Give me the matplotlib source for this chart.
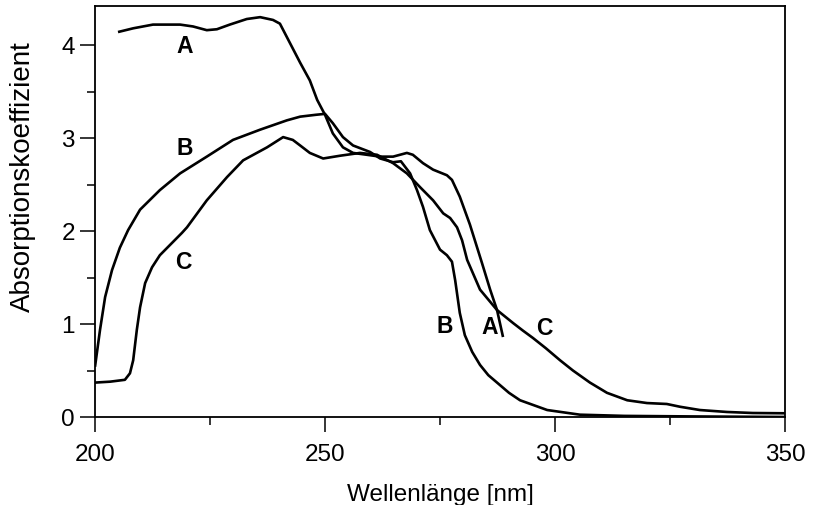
import matplotlib
matplotlib.use("Agg")
import matplotlib.pyplot as plt
from matplotlib.ticker import MultipleLocator

plt.rcParams['font.family'] = ['Liberation Sans', 'DejaVu Sans']

# Curve A
A_x = [205, 208.3, 212.6, 218.5, 221.3, 224.3, 226.5, 229.3, 233, 235.9, 238.7, 240.2,
       242.4, 244.6, 246.7, 248.3, 250, 251.7, 253.9, 256.1, 259.1, 262, 264.8, 267.8,
       269.1, 271.3, 273.5, 276.5, 277.6, 279.3, 281.5, 284.1, 285.9, 287.4, 288.7]
A_y = [4.14, 4.18, 4.22, 4.22, 4.20, 4.16, 4.17, 4.22, 4.28, 4.30, 4.27, 4.23,
       4.02, 3.81, 3.62, 3.41, 3.25, 3.05, 2.90, 2.84, 2.82, 2.80, 2.80, 2.84,
       2.82, 2.73, 2.66, 2.60, 2.55, 2.37, 2.07, 1.66, 1.37, 1.15, 0.86]

# Curve B
B_x = [200, 201.1, 202.2, 203.7, 205.4, 207.2, 209.8, 214.1, 218.5, 224.3, 230, 235.9,
       241.7, 244.6, 248, 250, 251.7, 253.9, 256.1, 259.8, 262, 264.8, 266.5, 268.5,
       270, 271.3, 272.8, 275, 276.5, 277.6, 278.3, 279.3, 280.4, 282, 283.7, 285.5,
       287.4, 290, 292.4, 298.3, 305.4, 315, 330, 350]
B_y = [0.54, 0.94, 1.29, 1.58, 1.82, 2.01, 2.23, 2.44, 2.62, 2.80, 2.98, 3.09,
       3.19, 3.23, 3.25, 3.26, 3.16, 3.01, 2.92, 2.85, 2.78, 2.74, 2.75, 2.62,
       2.44, 2.26, 2.01, 1.80, 1.74, 1.67, 1.47, 1.12, 0.88, 0.70, 0.56, 0.45,
       0.37, 0.26, 0.18, 0.075, 0.025, 0.012, 0.006, 0.0]

# Curve C
C_x = [200, 203.3, 206.5, 207.6, 208.3, 209.1, 209.8, 210.9, 212.4, 214.1, 216.3, 218.9,
       220, 224.3, 228.7, 232.2, 237.4, 240.9, 243, 244.6, 246.7, 249.6, 253.3, 257.6,
       261.3, 264.8, 267.8, 270.7, 273.5, 275.7, 277.2, 278.7, 279.8, 280.9, 283.7,
       287.4, 290.9, 293, 295.2, 298, 301.1, 303.9, 307.6, 311.3, 315.7, 320, 324.3,
       327.2, 331.5, 337.4, 343, 350]
C_y = [0.37, 0.38, 0.40, 0.47, 0.61, 0.94, 1.18, 1.44, 1.61, 1.74, 1.85, 1.98,
       2.04, 2.33, 2.58, 2.76, 2.90, 3.01, 2.98, 2.92, 2.84, 2.78, 2.81, 2.84,
       2.82, 2.73, 2.62, 2.47, 2.33, 2.19, 2.14, 2.04, 1.90, 1.69, 1.37,
       1.15, 1.01, 0.93, 0.85, 0.74, 0.61, 0.50, 0.37, 0.26, 0.18, 0.15, 0.14,
       0.11, 0.075, 0.054, 0.043, 0.04]

# Curve labels
label_text = ["A", "B", "C", "B", "A", "C"]
label_x = [219.6, 219.6, 219.1, 276.1, 285.7, 297.6]
label_y = [3.98, 2.89, 1.66, 0.97, 0.96, 0.95]

x_ticks = [200, 250, 300, 350]
y_ticks = [0, 1, 2, 3, 4]

fig = plt.figure(figsize=(8.15, 5.05), dpi=100)
ax = fig.add_axes([95/815, 1-417/505, 690/815, 411/505])

lw = 1.9
for xs, ys in [(A_x, A_y), (B_x, B_y), (C_x, C_y)]:
    ax.plot(xs, ys, color='black', lw=lw, solid_joinstyle='round', solid_capstyle='butt')

for t, x, y in zip(label_text, label_x, label_y):
    ax.text(x, y, t, fontsize=16.5, fontweight='bold', ha='center', va='center')

ax.set_xlim(200, 350)
ax.set_ylim(0, 4.42)
ax.set_xticks(x_ticks)
ax.set_yticks(y_ticks)
ax.xaxis.set_minor_locator(MultipleLocator(25))
ax.yaxis.set_minor_locator(MultipleLocator(0.5))
ax.tick_params(which='major', direction='out', length=10.5, width=1.1, labelsize=17.5)
ax.tick_params(axis='x', which='major', pad=9)
ax.tick_params(axis='y', which='major', pad=4)
ax.tick_params(which='minor', direction='out', length=5.5, width=1.1)
for s in ax.spines.values():
    s.set_linewidth(1.3)

ax.set_xlabel("Wellenlänge [nm]", fontsize=17.5, labelpad=13)
ax.set_ylabel("Absorptionskoeffizient", fontsize=20)
ax.yaxis.set_label_coords(-0.086, 0.584)

fig.savefig("out.png", dpi=100)
